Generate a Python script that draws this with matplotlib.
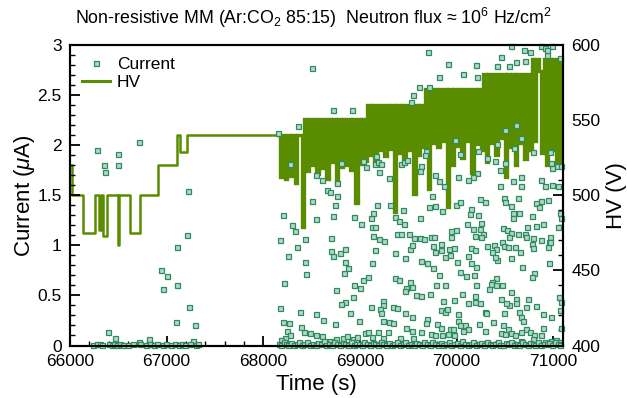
import matplotlib
matplotlib.use("Agg")
import matplotlib.pyplot as plt
from matplotlib.ticker import MultipleLocator, FuncFormatter
from matplotlib.lines import Line2D

plt.rcParams['font.family'] = ['Liberation Sans', 'DejaVu Sans']
plt.rcParams['mathtext.fontset'] = 'custom'
plt.rcParams['mathtext.rm'] = 'Liberation Sans'
plt.rcParams['mathtext.it'] = 'Liberation Sans:italic'
plt.rcParams['path.simplify'] = False

# HV set point (V), step curve
hv_time = [66000, 66020, 66138, 66259, 66304, 66325, 66345, 66380, 66497, 66510,
           66621, 66724, 66914, 67103, 67138, 67207,
           68150, 68175, 68200, 68225, 68250, 68275, 68300, 68325, 68350, 68375,
           68400, 68425, 68450, 68475, 68500, 68525, 68550, 68575, 68600, 68625,
           68650, 68675, 68700, 68725, 68750, 68775, 68800, 68825, 68850, 68875,
           68900, 68925, 68950, 68975, 69000, 69025, 69050, 69075, 69100, 69125,
           69150, 69175, 69200, 69225, 69250, 69275, 69300, 69325, 69350, 69375,
           69400, 69425, 69450, 69475, 69500, 69525, 69550, 69575, 69600, 69625,
           69650, 69675, 69700, 69725, 69750, 69775, 69800, 69825, 69850, 69875,
           69900, 69925, 69950, 69975, 70000, 70025, 70050, 70075, 70100, 70125,
           70150, 70175, 70200, 70225, 70250, 70275, 70300, 70325, 70350, 70375,
           70400, 70425, 70450, 70475, 70500, 70525, 70550, 70575, 70600, 70625,
           70650, 70675, 70700, 70725, 70750, 70775, 70800, 70825, 70850, 70875,
           70900, 70925, 70950, 70975, 71000, 71025, 71050, 71075, 71100]
hv_volt = [520, 500, 475, 500, 477, 500, 473, 500, 467, 500,
           475, 500, 520, 540, 529, 540,
           540, 512, 540, 511, 540, 513, 540, 508, 540, 540,
           479, 551, 516, 551, 520, 551, 514, 551, 518, 551,
           511, 551, 522, 551, 508, 551, 519, 551, 520, 551,
           517, 551, 495, 551, 521, 551, 523, 560, 527, 560,
           520, 560, 530, 560, 526, 560, 531, 560, 489, 560,
           528, 560, 524, 560, 530, 560, 501, 560, 527, 560,
           532, 571, 504, 571, 535, 571, 532, 571, 536, 571,
           492, 571, 520, 571, 533, 571, 525, 571, 536, 571,
           515, 571, 534, 571, 530, 581, 522, 581, 535, 581,
           527, 581, 538, 581, 512, 581, 532, 581, 520, 581,
           535, 581, 524, 581, 530, 591, 536, 591, 583, 528,
           591, 520, 591, 530, 591, 522, 591, 521, 591]

# current readings (uA), scattered points
cur_time = [66276, 66355, 66365, 66500, 66493, 66713, 67223, 67213, 67103, 66938,
            67006, 66958, 67103, 67234, 67093, 67293, 66390, 66465, 66817, 66717, 67275,
            68499, 68723, 68919, 68361, 68154, 69550, 69526, 68550, 68602, 68767,
            68664, 68688, 69164, 69067, 69154, 69188, 69215, 69198, 69298, 69422,
            69457, 69491, 68275, 68802, 69033,
            69705, 69912, 70205, 70067, 70215, 69815, 69715, 69608, 70456, 70422,
            70542, 70618, 70705, 70698, 70756, 70560, 70877, 70911, 70987, 70939,
            71073, 70935,
            70498, 70618, 70663, 70422, 70594, 70791, 70963, 69688, 69670, 69981,
            70032, 70222, 70318, 70394, 70498, 70215, 70170, 70119, 70015, 69774,
            69815, 69870, 69636, 69619, 70446, 70446, 70584, 70663, 70670, 70877,
            70911, 70987, 71049, 70980, 71042, 71084, 70987,
            68499, 68767, 68740, 68206, 68540, 68726, 68940, 69119, 69136, 69181,
            69309, 69360, 69405, 69447, 69453, 68292, 68326, 69009, 69126, 69154,
            69136, 69195, 69250, 69388, 69429, 69509, 69557, 68171, 68430, 68705,
            68350, 68705, 68723, 68792, 68843, 69160, 69360, 69522, 69543, 69464,
            68257, 68430, 68843, 68878, 68833, 69126, 68437, 69085, 69033, 69360,
            69405, 69522, 69533, 69481, 69464, 68216, 68940, 68998, 68757, 68930,
            68843, 68802, 69240, 69240, 69119, 69205, 69222, 69343, 69384, 68171,
            68378, 68543, 68895, 69464, 69533, 68619, 68740, 68992, 69233, 69298,
            69343, 68206, 68268, 68395, 68423, 68481, 68540, 68602, 68240, 68275,
            68223, 68181, 68688, 68757, 68826, 68867, 68930, 68974, 69050, 69078,
            69126, 69188, 69240, 69285, 69412, 69481, 69533, 69550,
            69746, 69712, 69781, 69853, 69619, 69998, 70039, 70246, 70291, 70491,
            70505, 70567, 70636, 70877, 70825, 70849, 70946, 70584, 70584, 70646,
            70780, 71073, 71084, 71049, 70146, 70136, 70222, 70256, 70112, 70170,
            70239, 69939, 69991, 69946, 70194, 70274, 70256, 70480, 70525, 70567,
            70543, 70636, 70705, 70732, 70825, 70894, 70722, 70791, 70877, 70963,
            70956, 69619, 69664, 69732, 69767, 69757, 69843, 69781, 69843, 69919,
            69974, 69884, 69929, 70153, 70187, 70119, 70318, 70387, 70405, 70367,
            70474, 70491, 70532, 70601, 70653, 70780, 70791, 70946, 70963, 69629,
            69698, 69757, 70008, 70153, 70205, 70422, 70394, 70560, 70680, 70953,
            70801, 70780, 69815, 70032, 70101, 70181, 70405, 70370, 70360, 70412,
            70474, 70332, 69791, 69884, 70198, 70567, 70739, 71060, 71084, 69584,
            69629, 69722, 69860, 69974, 70060, 70187, 70119, 70187, 70239, 70456,
            70539, 70515, 70618, 70618, 70722, 70825, 70894, 70980, 69836, 69884,
            69905, 70015, 70291, 70308, 70491, 70646, 70670, 70687, 71066, 69698,
            69688, 70015, 70032, 69801, 69843, 69929, 69963, 70084, 70119, 70232,
            70377, 70480, 70532, 70560, 70715, 70756, 70894, 71077, 69636, 69739,
            69774, 69850, 69912, 69974, 70067, 70298, 70463, 70505, 70601, 70663,
            70663, 70801, 70791, 70877, 70911, 70973, 71032, 71056]
cur_ua = [1.95, 1.80, 1.73, 1.91, 1.80, 2.03, 1.54, 1.10, 0.98, 0.75,
          0.69, 0.565, 0.60, 0.38, 0.235, 0.205, 0.13, 0.07, 0.06, 0.03, 0.04,
          2.772, 2.348, 2.348, 2.195, 2.122, 2.505, 2.428, 1.705, 1.655, 1.622,
          1.555, 1.532, 1.888, 1.778, 1.812, 1.828, 1.815, 1.728, 1.672, 1.812,
          1.828, 1.855, 1.815, 1.822, 1.845,
          2.932, 2.812, 2.805, 2.712, 2.678, 2.678, 2.582, 2.578, 2.878, 2.788,
          2.788, 2.828, 2.845, 2.948, 2.928, 2.995, 2.995, 2.972, 2.988, 2.905,
          2.872, 2.955,
          2.148, 2.205, 2.072, 2.012, 1.972, 1.928, 1.928, 1.938, 1.905, 2.055,
          1.915, 1.938, 1.872, 1.838, 1.822, 1.722, 1.682, 1.655, 1.678, 1.705,
          1.638, 1.588, 1.788, 1.738, 1.755, 1.588, 1.638, 1.682, 1.588, 1.655,
          1.588, 1.605, 1.595, 1.822, 1.788, 1.795, 1.772,
          1.445, 1.488, 1.405, 1.298, 1.262, 1.288, 1.278, 1.272, 1.322, 1.405,
          1.398, 1.278, 1.245, 1.348, 1.212, 1.205, 1.145, 1.212, 1.188, 1.182,
          1.098, 1.062, 1.048, 1.115, 1.115, 1.115, 1.072, 1.055, 1.062, 1.078,
          0.982, 0.945, 0.898, 0.922, 0.965, 0.952, 0.922, 0.965, 1.005, 0.872,
          0.895, 0.832, 0.838, 0.778, 0.728, 0.822, 0.715, 0.685, 0.655, 0.672,
          0.652, 0.632, 0.588, 0.578, 0.545, 0.622, 0.605, 0.572, 0.552, 0.488,
          0.438, 0.412, 0.445, 0.405, 0.382, 0.362, 0.322, 0.382, 0.372, 0.378,
          0.332, 0.315, 0.322, 0.322, 0.282, 0.252, 0.215, 0.245, 0.248, 0.238,
          0.222, 0.232, 0.225, 0.182, 0.138, 0.122, 0.105, 0.098, 0.145, 0.105,
          0.078, 0.055, 0.048, 0.062, 0.072, 0.098, 0.062, 0.082, 0.122, 0.132,
          0.088, 0.138, 0.078, 0.132, 0.078, 0.178, 0.145, 0.072,
          1.488, 1.378, 1.388, 1.345, 1.272, 1.398, 1.428, 1.465, 1.432, 1.472,
          1.432, 1.388, 1.472, 1.438, 1.422, 1.378, 1.455, 1.322, 1.272, 1.322,
          1.288, 1.322, 1.272, 1.182, 1.365, 1.312, 1.305, 1.222, 1.212, 1.162,
          1.162, 1.145, 1.155, 1.088, 1.098, 1.112, 1.088, 1.172, 1.155, 1.122,
          1.088, 1.112, 1.115, 1.188, 1.195, 1.212, 1.088, 1.078, 1.055, 1.088,
          1.038, 1.072, 1.062, 1.088, 1.082, 0.995, 1.012, 0.938, 0.955, 0.962,
          0.978, 0.888, 0.905, 0.978, 0.955, 0.898, 0.995, 1.005, 0.962, 0.938,
          1.038, 0.998, 0.982, 0.988, 0.932, 1.012, 0.972, 0.982, 1.032, 0.845,
          0.822, 0.772, 0.838, 0.822, 0.788, 0.855, 0.888, 0.878, 0.788, 0.822,
          0.722, 0.688, 0.705, 0.738, 0.695, 0.705, 0.678, 0.638, 0.612, 0.605,
          0.605, 0.562, 0.605, 0.605, 0.605, 0.532, 0.465, 0.488, 0.438, 0.505,
          0.498, 0.515, 0.445, 0.452, 0.512, 0.498, 0.422, 0.432, 0.428, 0.465,
          0.405, 0.422, 0.462, 0.428, 0.382, 0.395, 0.315, 0.282, 0.355, 0.338,
          0.365, 0.315, 0.338, 0.322, 0.322, 0.338, 0.288, 0.245, 0.355, 0.265,
          0.222, 0.245, 0.205, 0.215, 0.178, 0.162, 0.165, 0.205, 0.162, 0.212,
          0.232, 0.205, 0.165, 0.122, 0.165, 0.138, 0.172, 0.172, 0.138, 0.112,
          0.105, 0.105, 0.112, 0.105, 0.145, 0.145, 0.128, 0.115, 0.105, 0.132,
          0.045, 0.105, 0.065, 0.105, 0.038, 0.048, 0.055, 0.038]

# readings sitting on the baseline
base_time = [66240, 66280, 66310, 66335, 66400, 66430, 66455, 66490, 66520, 66550,
             66600, 66650, 66720, 66790, 66830, 66870, 66900, 66960, 66990, 67040,
             67090, 67130, 67160, 67190, 67240, 67300, 67320,
             68160, 68185, 68210, 68230, 68260, 68290, 68315, 68345, 68370, 68400,
             68425, 68455, 68480, 68510, 68540, 68570, 68600, 68625, 68650, 68680,
             68710, 68735, 68765, 68790, 68820, 68850, 68880, 68905, 68935, 68960,
             68990, 69020, 69045, 69075, 69100, 69130, 69160, 69185, 69215, 69240,
             69270, 69300, 69330, 69355, 69385, 69410, 69440, 69470, 69495, 69525,
             69555, 69580, 69610, 69640, 69665, 69695, 69720, 69750, 69780, 69805,
             69835, 69860, 69890, 69920, 69945, 69975, 70005, 70030, 70060, 70085,
             70115, 70145, 70170, 70200, 70230, 70255, 70285, 70310, 70340, 70370,
             70395, 70425, 70450, 70480, 70510, 70535, 70565, 70590, 70620, 70650,
             70675, 70705, 70735, 70760, 70790, 70815, 70845, 70875, 70900, 70930,
             70960, 70985, 71015, 71045, 71070]
base_ua = [0.01, 0.012, 0.015, 0.01, 0.012, 0.01, 0.015, 0.01, 0.012, 0.01,
           0.01, 0.012, 0.015, 0.01, 0.012, 0.01, 0.015, 0.01, 0.012, 0.01,
           0.012, 0.01, 0.015, 0.01, 0.015, 0.01, 0.02,
           0.02, 0.01, 0.03, 0.015, 0.005, 0.025, 0.01, 0.02, 0.035, 0.01,
           0.015, 0.03, 0.005, 0.02, 0.01, 0.025, 0.015, 0.04, 0.01, 0.02,
           0.005, 0.03, 0.015, 0.01, 0.025, 0.02, 0.01, 0.035, 0.005, 0.02,
           0.015, 0.01, 0.03, 0.02, 0.005, 0.025, 0.015, 0.01, 0.03, 0.02,
           0.01, 0.025, 0.005, 0.02, 0.035, 0.01, 0.015, 0.03, 0.005, 0.02,
           0.01, 0.025, 0.015, 0.005, 0.03, 0.02, 0.01, 0.035, 0.015, 0.005,
           0.025, 0.01, 0.02, 0.03, 0.005, 0.015, 0.025, 0.01, 0.04, 0.02,
           0.005, 0.015, 0.03, 0.01, 0.02, 0.025, 0.005, 0.035, 0.015, 0.01,
           0.02, 0.03, 0.01, 0.005, 0.025, 0.015, 0.035, 0.01, 0.02, 0.005,
           0.03, 0.015, 0.01, 0.025, 0.02, 0.005, 0.03, 0.01, 0.02, 0.015,
           0.025, 0.01, 0.03, 0.02, 0.01]

hv_color = '#5a8c00'
mk_face = '#b2d9c1'
mk_edge = '#2f8a64'

fig = plt.figure(figsize=(6.27, 3.98), dpi=100)
ax = fig.add_axes([0.1116, 0.1319, 0.7863, 0.755])
ax2 = ax.twinx()

# slow part of the HV log and the fast-toggling part (drawn a bit heavier)
ax2.plot(hv_time[:17], hv_volt[:17], drawstyle='steps-post', color=hv_color, lw=1.8)
ax2.plot(hv_time[16:], hv_volt[16:], drawstyle='steps-post', color=hv_color, lw=2.4,
         solid_joinstyle='miter')
ax.plot(cur_time + base_time, cur_ua + base_ua, ls='none', marker='s', ms=3.6,
        mfc=mk_face, mec=mk_edge, mew=0.9, clip_on=False)

# current on top of the HV curve
ax.set_zorder(ax2.get_zorder() + 1)
ax.patch.set_visible(False)

ax.set_xlim(66000, 71100)
ax.set_ylim(0, 3)
ax2.set_ylim(400, 600)

ax.xaxis.set_major_locator(MultipleLocator(1000))
ax.xaxis.set_minor_locator(MultipleLocator(200))
ax.yaxis.set_major_locator(MultipleLocator(0.5))
ax.yaxis.set_minor_locator(MultipleLocator(0.1))
ax2.yaxis.set_major_locator(MultipleLocator(50))
ax2.yaxis.set_minor_locator(MultipleLocator(10))
ax.yaxis.set_major_formatter(FuncFormatter(lambda v, p: '%g' % v))

for a in (ax, ax2):
    a.tick_params(which='major', direction='in', length=7, width=1.3, labelsize=12.5, pad=6)
    a.tick_params(which='minor', direction='in', length=3.5, width=1.0)
    for s in a.spines.values():
        s.set_linewidth(1.5)
ax.tick_params(which='both', top=False, right=False)
ax2.tick_params(which='both', top=False, left=False)

ax.set_xlabel('Time (s)', fontsize=16, labelpad=4)
ax.set_ylabel('Current ($\\mu$A)', fontsize=16, labelpad=0)
ax2.set_ylabel('HV (V)', fontsize=16, rotation=90, labelpad=4)

fig.text(0.5, 0.955, 'Non-resistive MM (Ar:CO$_2$ 85:15)  Neutron flux \u2248 10$^6$ Hz/cm$^2$',
         ha='center', va='center', fontsize=12.8)

handles = [Line2D([], [], ls='none', marker='s', ms=3.6, mfc=mk_face, mec=mk_edge, mew=0.9),
           Line2D([], [], color=hv_color, lw=2.2)]
ax.legend(handles, ['Current', 'HV'], loc='upper left', frameon=False, fontsize=12.5,
          handlelength=1.6, handletextpad=0.4, borderaxespad=0.3, labelspacing=0.15)

fig.savefig('out.png', dpi=100)
